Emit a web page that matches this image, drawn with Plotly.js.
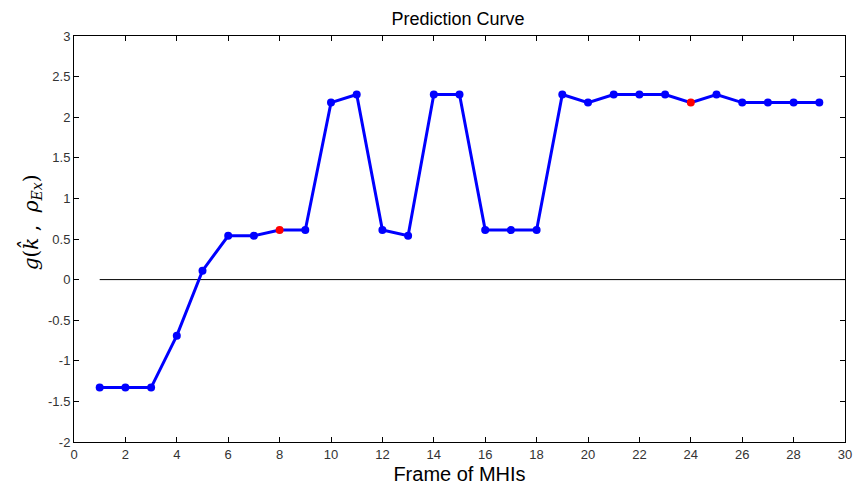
<!DOCTYPE html>
<html>
<head>
<meta charset="utf-8">
<script src="https://cdn.plot.ly/plotly-3.0.1.min.js"></script>
<style>html,body{margin:0;padding:0;background:#fff;}#chart{width:856px;height:494px;}</style>
</head>
<body>
<div id="chart"></div>
<script>
var frames = [1,2,3,4,5,6,7,8,9,10,11,12,13,14,15,16,17,18,19,20,21,22,23,24,25,26,27,28,29];
var gValues = [-1.33,-1.33,-1.33,-0.69,0.11,0.54,0.54,0.61,0.61,2.18,2.28,0.61,0.54,2.28,2.28,0.61,0.61,0.61,2.28,2.18,2.28,2.28,2.28,2.18,2.28,2.18,2.18,2.18,2.18];
var highlightFrames = [8,24];
var xTicks = [0,2,4,6,8,10,12,14,16,18,20,22,24,26,28,30];
var yTicks = [-2,-1.5,-1,-0.5,0,0.5,1,1.5,2,2.5,3];
var zeroLineRange = [1,30];

var markerColors = frames.map(function(f){ return highlightFrames.indexOf(f) >= 0 ? '#ff0000' : '#0000ff'; });

var trace = {
  x: frames, y: gValues, type: 'scatter', mode: 'lines+markers',
  line: {color: '#0000ff', width: 3},
  marker: {color: markerColors, size: 8, line: {width: 0}},
  hoverinfo: 'x+y'
};
var zeroTrace = {
  x: zeroLineRange, y: [0,0], type: 'scatter', mode: 'lines',
  line: {color: '#000000', width: 1}, hoverinfo: 'skip'
};

var tickFont = {family: 'Liberation Sans Narrow, Arial Narrow, Liberation Sans, Arial, sans-serif', size: 13, color: '#333'};
var layout = {
  width: 856, height: 494,
  margin: {l: 74, r: 11, t: 36, b: 52},
  paper_bgcolor: '#fff', plot_bgcolor: '#fff',
  showlegend: false,
  title: {text: 'Prediction Curve', font: {family: 'Liberation Sans, Arial, sans-serif', size: 18, color: '#000'}, x: 0.535, xanchor: 'center', y: 0.962, yanchor: 'middle'},
  xaxis: {
    range: [0,30], tickvals: xTicks, ticktext: xTicks.map(String),
    ticks: 'inside', ticklen: 5, tickcolor: '#000', mirror: 'ticks',
    showline: true, linecolor: '#000', linewidth: 1, showgrid: false, zeroline: false,
    tickfont: tickFont,
    title: {text: 'Frame of MHIs', font: {family: 'Liberation Sans, Arial, sans-serif', size: 20, color: '#000'}, standoff: 6}
  },
  yaxis: {
    range: [-2,3], tickvals: yTicks, ticktext: yTicks.map(String),
    ticks: 'inside', ticklen: 5, tickcolor: '#000', mirror: 'ticks',
    showline: true, linecolor: '#000', linewidth: 1, showgrid: false, zeroline: false,
    tickfont: tickFont
  },
  annotations: [{
    xref: 'paper', yref: 'paper', x: -0.055, y: 0.54,
    xanchor: 'center', yanchor: 'middle', textangle: -90, showarrow: false,
    text: '<i>g</i>(<i>k̂</i> ,  <i>ρ</i><sub><i>Ex</i></sub>)',
    font: {family: 'DejaVu Serif, Liberation Serif, serif', size: 20, color: '#000'}
  }]
};

Plotly.newPlot('chart', [zeroTrace, trace], layout, {displayModeBar: false, staticPlot: true});
</script>
</body>
</html>
